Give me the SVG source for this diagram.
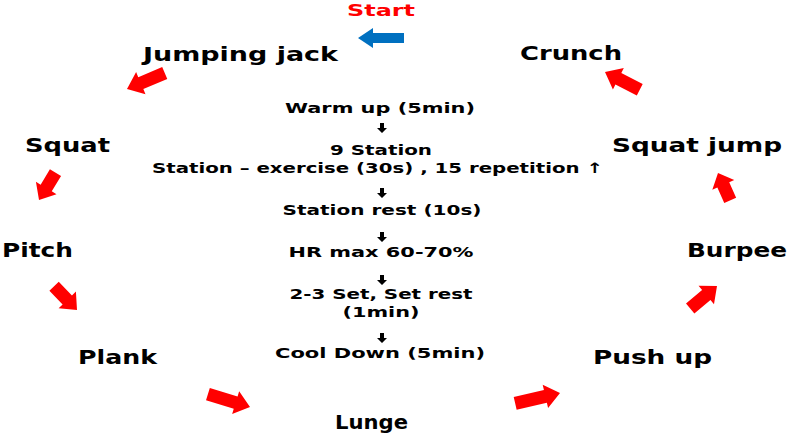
<svg xmlns="http://www.w3.org/2000/svg" width="790" height="435" viewBox="0 0 790 435">
<style>
.n{font-family:"DejaVu Sans","Noto Sans",sans-serif;font-weight:bold;font-size:20px;fill:#000;text-anchor:middle}
.c{font-family:"DejaVu Sans","Noto Sans",sans-serif;font-weight:bold;font-size:14.5px;fill:#000;text-anchor:middle}
.ra{fill:#FF0000}
.ka{fill:#000}
</style>
<rect width="790" height="435" fill="#fff"/>
<g id="start">
<text x="381" y="16" class="n" style="fill:#FF0000;font-size:16.5px" textLength="68" lengthAdjust="spacingAndGlyphs">Start</text>
</g>
<g id="jumping-jack"><text x="240.5" y="61" class="n" textLength="195" lengthAdjust="spacingAndGlyphs">Jumping jack</text></g>
<g id="crunch"><text x="571" y="60" class="n" textLength="102" lengthAdjust="spacingAndGlyphs">Crunch</text></g>
<g id="squat"><text x="67.5" y="152" class="n" textLength="85" lengthAdjust="spacingAndGlyphs">Squat</text></g>
<g id="squat-jump"><text x="697" y="152" class="n" textLength="170" lengthAdjust="spacingAndGlyphs">Squat jump</text></g>
<g id="pitch"><text x="37.5" y="257" class="n" textLength="71" lengthAdjust="spacingAndGlyphs">Pitch</text></g>
<g id="burpee"><text x="737" y="257" class="n" textLength="100" lengthAdjust="spacingAndGlyphs">Burpee</text></g>
<g id="plank"><text x="117.5" y="364" class="n" textLength="79" lengthAdjust="spacingAndGlyphs">Plank</text></g>
<g id="push-up"><text x="652.5" y="364" class="n" textLength="119" lengthAdjust="spacingAndGlyphs">Push up</text></g>
<g id="lunge"><text x="371.5" y="429" class="n" textLength="73" lengthAdjust="spacingAndGlyphs">Lunge</text></g>
<g id="protocol">
<text x="380" y="113" class="c" textLength="190" lengthAdjust="spacingAndGlyphs">Warm up (5min)</text>
<text x="381" y="155" class="c" textLength="102" lengthAdjust="spacingAndGlyphs">9 Station</text>
<text x="377.5" y="173" class="c" textLength="451" lengthAdjust="spacingAndGlyphs">Station – exercise (30s) , 15 repetition ↑</text>
<text x="382" y="215" class="c" textLength="199" lengthAdjust="spacingAndGlyphs">Station rest (10s)</text>
<text x="381" y="257" class="c" textLength="185" lengthAdjust="spacingAndGlyphs">HR max 60-70%</text>
<text x="381" y="299" class="c" textLength="183" lengthAdjust="spacingAndGlyphs">2-3 Set, Set rest</text>
<text x="381" y="317" class="c" textLength="77" lengthAdjust="spacingAndGlyphs">(1min)</text>
<text x="380" y="358" class="c" textLength="210" lengthAdjust="spacingAndGlyphs">Cool Down (5min)</text>
</g>
<g id="connectors">
<polygon points="358,38 373,28 373,33 404,33 404,43 373,43 373,48" fill="#0070C0"/>
<polygon class="ra" points="-41,-6.5 -15,-6.5 -15,-12 0,0 -15,12 -15,6.5 -41,6.5" transform="translate(127,89) rotate(157)"/>
<polygon class="ra" points="-32,-6.5 -14,-6.5 -14,-12 0,0 -14,12 -14,6.5 -32,6.5" transform="translate(39,200) rotate(121)"/>
<polygon class="ra" points="-33,-6.5 -14,-6.5 -14,-12 0,0 -14,12 -14,6.5 -33,6.5" transform="translate(77,310) rotate(46)"/>
<polygon class="ra" points="-44,-6.5 -15,-6.5 -15,-12 0,0 -15,12 -15,6.5 -44,6.5" transform="translate(250,407) rotate(17)"/>
<polygon class="ra" points="-46,-6.5 -15,-6.5 -15,-12 0,0 -15,12 -15,6.5 -46,6.5" transform="translate(560,393) rotate(-13)"/>
<polygon class="ra" points="-35,-6.5 -14,-6.5 -14,-12 0,0 -14,12 -14,6.5 -35,6.5" transform="translate(717,286) rotate(-40)"/>
<polygon class="ra" points="-30,-6.5 -13,-6.5 -13,-12 0,0 -13,12 -13,6.5 -30,6.5" transform="translate(718,173) rotate(-114)"/>
<polygon class="ra" points="-39,-6.5 -15,-6.5 -15,-12 0,0 -15,12 -15,6.5 -39,6.5" transform="translate(605,72) rotate(-153)"/>
<g class="ka">
<polygon points="-2,-5 2,-5 2,0 5,0 0,5 -5,0 -2,0" transform="translate(382,128)"/>
<polygon points="-2,-5 2,-5 2,0 5,0 0,5 -5,0 -2,0" transform="translate(382,193)"/>
<polygon points="-2,-5 2,-5 2,0 5,0 0,5 -5,0 -2,0" transform="translate(382,237)"/>
<polygon points="-2,-5 2,-5 2,0 5,0 0,5 -5,0 -2,0" transform="translate(382,280)"/>
<polygon points="-2,-5 2,-5 2,0 5,0 0,5 -5,0 -2,0" transform="translate(382,338)"/>
</g>
</g>
</svg>
